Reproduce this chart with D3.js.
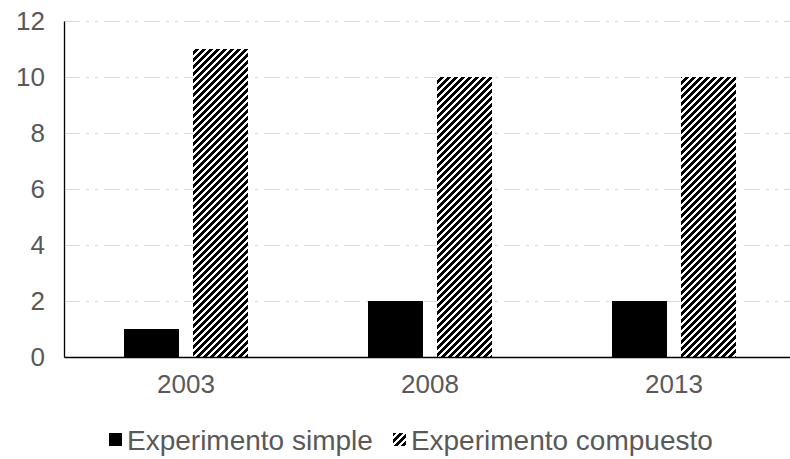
<!DOCTYPE html>
<html>
<head>
<meta charset="utf-8">
<script src="https://cdn.jsdelivr.net/npm/d3@7"></script>
<style>
  html, body { margin: 0; padding: 0; background: #fff; }
  svg { display: block; font-family: "Liberation Sans", Arial, sans-serif; }
</style>
</head>
<body>
<svg id="chart" width="790" height="459"></svg>
<script>
// Chart data
const categories = ["2003", "2008", "2013"];
const seriesNames = ["Experimento simple", "Experimento compuesto"];
const simpleValues = [1, 2, 2];
const compuestoValues = [11, 10, 10];
const yTicks = [0, 2, 4, 6, 8, 10, 12];

const AXIS_FONT = 26;
const LEGEND_FONT = 28;
const svg = d3.select("#chart");
const margin = { left: 64, top: 21, bottom: 357 };
const bandStep = 244;

// Hatch pattern: wide upward diagonal stripes
const defs = svg.append("defs");
const pat = defs.append("pattern")
  .attr("id", "hatch")
  .attr("patternUnits", "userSpaceOnUse")
  .attr("width", 7).attr("height", 7);
pat.append("rect").attr("width", 7).attr("height", 7).attr("fill", "#fff");
for (let r = 0; r < 7; r++) {
  for (let k = 0; k < 4; k++) {
    const c = ((6 - r) + k + 7) % 7;
    pat.append("rect").attr("x", c).attr("y", r).attr("width", 1).attr("height", 1)
      .attr("fill", "#000").attr("shape-rendering", "crispEdges");
  }
}

const x0 = d3.scaleBand()
  .domain(categories)
  .range([margin.left, margin.left + bandStep * categories.length])
  .paddingInner(0).paddingOuter(0);

const y = d3.scaleLinear().domain([0, 12]).range([margin.bottom, margin.top]);

// Gridlines (dash-dot)
svg.append("g")
  .selectAll("line")
  .data(yTicks.filter(t => t > 0))
  .join("line")
  .attr("x1", margin.left).attr("x2", 790)
  .attr("y1", d => y(d) + 0.5).attr("y2", d => y(d) + 0.5)
  .attr("stroke", "#d9d9d9")
  .attr("stroke-width", 1)
  .attr("stroke-dasharray", "16,6,3,6,3,6");

// Bars
const barW = 55, gap = 14;
const groupW = barW * 2 + gap;
const seriesData = [simpleValues, compuestoValues];
const fills = ["#000", "url(#hatch)"];

seriesData.forEach((vals, si) => {
  svg.append("g")
    .selectAll("rect")
    .data(vals)
    .join("rect")
    .attr("x", (d, i) => x0(categories[i]) + (bandStep - groupW) / 2 + si * (barW + gap))
    .attr("y", d => y(d))
    .attr("width", barW)
    .attr("height", d => y(0) - y(d))
    .attr("fill", fills[si])
    .attr("shape-rendering", "crispEdges");
});

// Y axis
const yAxis = d3.axisLeft(y).tickValues(yTicks).tickSize(0).tickPadding(19);
const gy = svg.append("g").attr("transform", `translate(${margin.left},0)`).call(yAxis);
gy.select(".domain").attr("stroke", "#000").attr("stroke-width", 1.3);
gy.selectAll("text").attr("fill", "#595959").attr("font-size", AXIS_FONT)
  .attr("font-family", "'Liberation Sans', Arial, sans-serif");

// X axis
const xAxis = d3.axisBottom(x0).tickSize(0).tickPadding(18);
const gx = svg.append("g").attr("transform", `translate(0,${margin.bottom})`).call(xAxis);
gx.select(".domain").attr("stroke", "#000").attr("stroke-width", 1.3);
gx.selectAll("text").attr("fill", "#595959").attr("font-size", AXIS_FONT)
  .attr("font-family", "'Liberation Sans', Arial, sans-serif");

// Legend
const legend = svg.append("g");
let lx = 109;
seriesNames.forEach((name, i) => {
  legend.append("rect")
    .attr("x", lx).attr("y", 433).attr("width", 13).attr("height", 13)
    .attr("fill", fills[i]).attr("shape-rendering", "crispEdges");
  const t = legend.append("text")
    .attr("x", lx + 18).attr("y", 450)
    .attr("font-size", LEGEND_FONT).attr("fill", "#595959")
    .text(name);
  lx = lx + 18 + t.node().getComputedTextLength() + 20;
});
</script>
</body>
</html>
